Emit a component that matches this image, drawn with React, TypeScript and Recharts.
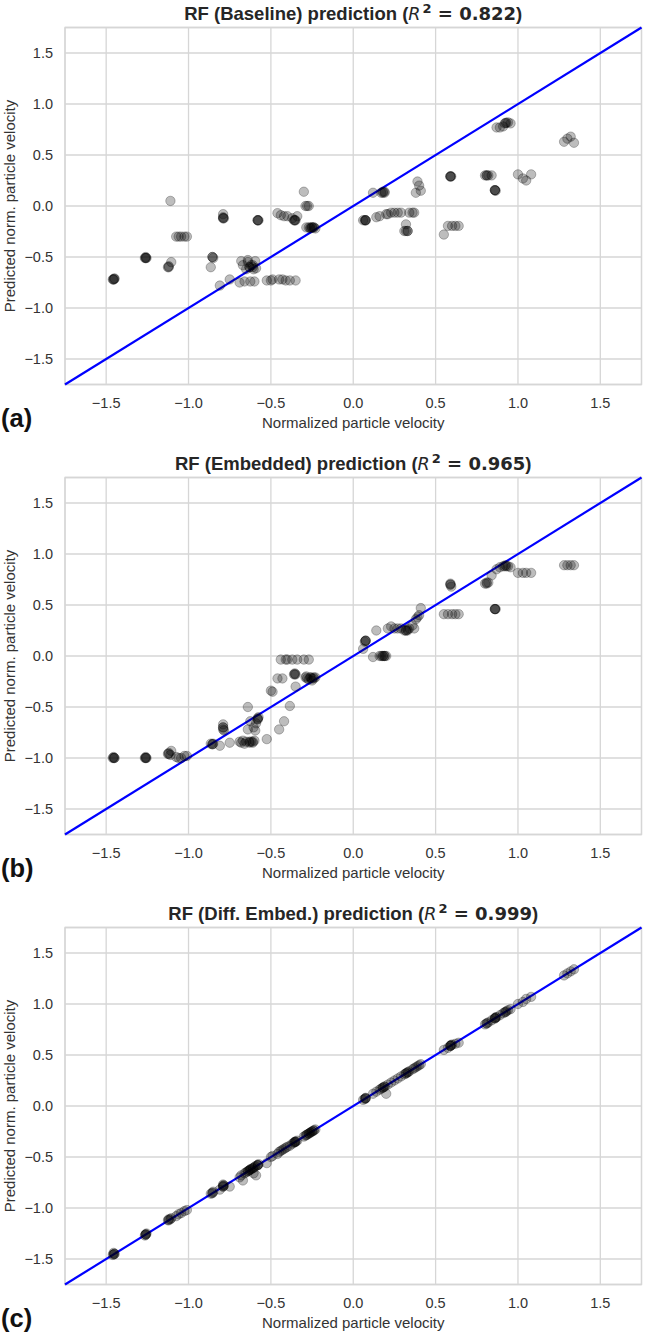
import React from "react";
import {
  ScatterChart,
  Scatter,
  XAxis,
  YAxis,
  CartesianGrid,
  ReferenceLine,
  ReferenceArea,
} from "recharts";

// True (normalized) particle velocity for each sample
const actual = [
  -1.46, -1.45, -1.455, -1.265, -1.255, -1.26, -1.125, -1.12, -1.105, -1.11,
  -1.075, -1.06, -1.045, -1.025, -1.01, -0.865, -0.855, -0.85, -0.81, -0.79,
  -0.785, -0.79, -0.75, -0.69, -0.68, -0.67, -0.66, -0.65, -0.64, -0.63,
  -0.625, -0.61, -0.605, -0.6, -0.595, -0.59, -0.64, -0.58, -0.575, -0.525,
  -0.5, -0.49, -0.46, -0.45, -0.44, -0.43, -0.42, -0.41, -0.4, -0.385,
  -0.37, -0.36, -0.355, -0.35, -0.34, -0.3, -0.29, -0.28, -0.27, -0.285,
  -0.27, -0.26, -0.25, -0.24, -0.23, 0.075, 0.07, 0.06, 0.12, 0.14,
  0.16, 0.17, 0.18, 0.19, 0.2, 0.21, 0.23, 0.25, 0.27, 0.29,
  0.31, 0.32, 0.33, 0.34, 0.36, 0.37, 0.38, 0.39, 0.4, 0.41,
  0.55, 0.575, 0.59, 0.595, 0.6, 0.62, 0.64, 0.8, 0.81, 0.84,
  0.86, 0.865, 0.87, 0.89, 0.91, 0.925, 0.94, 0.955, 1.0, 1.03,
  1.05, 1.08, 1.28, 1.3, 1.32, 1.34,
  -1.455, -1.45, -1.26, -1.26, -1.12, -0.855, -0.79, -0.79, -0.62, -0.63,
  -0.61, -0.58, -0.58, -0.355, -0.35, -0.26, -0.25, -0.24, 0.075, 0.075,
  0.18, 0.19, 0.59, 0.59, 0.81, 0.82, 0.86, 0.86, 0.93, 0.92,
  0.32, 0.33,
];

// RF (Baseline) predictions
const predBaseline = [
  -0.72, -0.71, -0.72, -0.51, -0.51, -0.5, -0.6, -0.59, -0.55, 0.05,
  -0.3, -0.3, -0.3, -0.3, -0.3, -0.6, -0.5, -0.51, -0.78, -0.11,
  -0.12, -0.08, -0.72, -0.75, -0.54, -0.58, -0.74, -0.62, -0.55, -0.6,
  -0.74, -0.58, -0.62, -0.74, -0.54, -0.61, -0.53, -0.14, -0.14, -0.73,
  -0.73, -0.72, -0.07, -0.72, -0.09, -0.72, -0.1, -0.73, -0.1, -0.73,
  -0.12, -0.14, -0.14, -0.73, -0.1, 0.14, 0.0, 0.0, 0.0, -0.21,
  -0.21, -0.22, -0.21, -0.21, -0.22, -0.14, -0.14, -0.14, 0.13, -0.11,
  -0.1, 0.13, 0.14, 0.14, -0.08, -0.08, -0.065, -0.065, -0.065, -0.065,
  -0.245, -0.18, -0.245, -0.065, -0.065, -0.065, 0.13, 0.24, 0.2, 0.15,
  -0.28, -0.195, 0.29, 0.29, -0.195, -0.195, -0.195, 0.3, 0.3, 0.3,
  0.155, 0.15, 0.77, 0.77, 0.78, 0.815, 0.82, 0.81, 0.31, 0.27,
  0.25, 0.31, 0.63, 0.66, 0.68, 0.62,
  -0.72, -0.715, -0.51, -0.51, -0.6, -0.5, -0.12, -0.12, -0.58, -0.6,
  -0.6, -0.14, -0.14, -0.14, -0.14, -0.21, -0.21, -0.21, -0.14, -0.14,
  0.13, 0.13, 0.29, 0.29, 0.3, 0.3, 0.155, 0.155, 0.815, 0.81,
  -0.245, -0.245,
];

// RF (Embedded) predictions
const predEmbedded = [
  -1.0, -1.0, -0.99, -1.0, -1.0, -0.99, -0.96, -0.95, -0.93, -0.97,
  -0.99, -1.0, -1.0, -0.98, -0.98, -0.86, -0.865, -0.86, -0.88, -0.7,
  -0.73, -0.67, -0.85, -0.84, -0.85, -0.83, -0.86, -0.84, -0.72, -0.84,
  -0.64, -0.85, -0.7, -0.83, -0.73, -0.66, -0.5, -0.62, -0.6, -0.815,
  -0.34, -0.35, -0.22, -0.72, -0.035, -0.22, -0.64, -0.035, -0.035, -0.49,
  -0.035, -0.18, -0.17, -0.3, -0.035, -0.035, -0.21, -0.22, -0.035, -0.2,
  -0.23, -0.21, -0.24, -0.22, -0.21, 0.15, 0.14, 0.07, -0.01, 0.25,
  0.0, 0.0, 0.0, 0.0, 0.0, 0.27, 0.29, 0.27, 0.27, 0.27,
  0.25, 0.25, 0.26, 0.27, 0.3, 0.27, 0.36, 0.38, 0.4, 0.47,
  0.41, 0.41, 0.71, 0.68, 0.41, 0.41, 0.41, 0.71, 0.72, 0.79,
  0.46, 0.46, 0.85, 0.87, 0.88, 0.89, 0.88, 0.87, 0.815, 0.815,
  0.815, 0.815, 0.89, 0.89, 0.89, 0.89,
  -1.0, -1.0, -1.0, -1.0, -0.96, -0.865, -0.72, -0.7, -0.84, -0.85,
  -0.84, -0.62, -0.61, -0.18, -0.18, -0.21, -0.22, -0.21, 0.15, 0.15,
  0.0, 0.0, 0.7, 0.7, 0.71, 0.72, 0.46, 0.46, 0.88, 0.88,
  0.25, 0.25,
];

// RF (Diff. Embed.) predictions
const predDiffEmbed = [
  -1.46, -1.45, -1.44, -1.27, -1.25, -1.26, -1.12, -1.11, -1.1, -1.11,
  -1.08, -1.06, -1.05, -1.03, -1.02, -0.86, -0.85, -0.84, -0.82, -0.78,
  -0.78, -0.77, -0.79, -0.7, -0.68, -0.73, -0.66, -0.65, -0.64, -0.63,
  -0.62, -0.61, -0.66, -0.6, -0.59, -0.68, -0.64, -0.58, -0.57, -0.56,
  -0.5, -0.49, -0.47, -0.45, -0.44, -0.43, -0.42, -0.41, -0.4, -0.39,
  -0.37, -0.36, -0.35, -0.35, -0.34, -0.3, -0.29, -0.28, -0.27, -0.285,
  -0.27, -0.26, -0.25, -0.24, -0.23, 0.08, 0.07, 0.06, 0.12, 0.14,
  0.16, 0.17, 0.18, 0.19, 0.12, 0.21, 0.23, 0.25, 0.27, 0.29,
  0.31, 0.32, 0.33, 0.34, 0.36, 0.37, 0.38, 0.39, 0.4, 0.41,
  0.55, 0.57, 0.59, 0.6, 0.6, 0.61, 0.62, 0.8, 0.81, 0.84,
  0.86, 0.87, 0.87, 0.89, 0.91, 0.92, 0.94, 0.95, 1.0, 1.02,
  1.05, 1.07, 1.28, 1.3, 1.32, 1.34,
  -1.455, -1.45, -1.26, -1.26, -1.12, -0.855, -0.79, -0.79, -0.62, -0.63,
  -0.61, -0.58, -0.58, -0.355, -0.35, -0.26, -0.25, -0.24, 0.075, 0.075,
  0.18, 0.19, 0.59, 0.59, 0.81, 0.82, 0.86, 0.86, 0.93, 0.92,
  0.32, 0.33,
];

const axisTicks = [-1.5, -1.0, -0.5, 0.0, 0.5, 1.0, 1.5];
const axisDomain = [-1.75, 1.75];

const panelTitles = ["RF (Baseline)", "RF (Embedded)", "RF (Diff. Embed.)"];
const panelR2 = ["0.822", "0.965", "0.999"];
const panelLetters = ["(a)", "(b)", "(c)"];
const panelPreds = [predBaseline, predEmbedded, predDiffEmbed];

const fmt = (v: number) => (v < 0 ? "\u2212" : "") + Math.abs(v).toFixed(1);

const TEXT = "#333333";
const GRID = "#d6d6d6";
const SANS = "'Liberation Sans', Arial, Helvetica, sans-serif";
const MATH = "'DejaVu Sans', sans-serif";

const Dot = (props: any) => {
  const { cx, cy } = props;
  if (cx == null || cy == null) return null;
  return (
    <circle
      cx={cx}
      cy={cy}
      r={4.7}
      fill="#000"
      fillOpacity={0.26}
      stroke="#000"
      strokeOpacity={0.26}
      strokeWidth={1}
    />
  );
};

const PLOT_LEFT = 65;
const PLOT_RIGHT = 641.5;
const PLOT_TOP = 27.5;
const PLOT_BOTTOM = 384.5;

function Panel({ idx }: { idx: number }) {
  const top = idx * 450;
  const pred = panelPreds[idx];
  const data = actual.map((x, i) => ({ x, y: pred[i] }));
  const cx = (PLOT_LEFT + PLOT_RIGHT) / 2;
  const cy = (PLOT_TOP + PLOT_BOTTOM) / 2;
  return (
    <div style={{ position: "absolute", left: 0, top, width: 645, height: 450 }}>
      <ScatterChart
        width={645}
        height={435}
        margin={{ top: PLOT_TOP, right: 645 - PLOT_RIGHT, bottom: 0, left: 0 }}
      >
        <CartesianGrid stroke={GRID} strokeWidth={1.3} />
        <XAxis
          type="number"
          dataKey="x"
          domain={axisDomain}
          ticks={axisTicks}
          allowDataOverflow
          tickFormatter={fmt}
          axisLine={false}
          tickLine={false}
          tickSize={6}
          tickMargin={7}
          height={435 - PLOT_BOTTOM}
          tick={{ fill: TEXT, fontSize: 14.5, fontFamily: SANS }}
          interval={0}
        />
        <YAxis
          type="number"
          dataKey="y"
          domain={axisDomain}
          ticks={axisTicks}
          allowDataOverflow
          tickFormatter={fmt}
          axisLine={false}
          tickLine={false}
          tickSize={6}
          tickMargin={6}
          width={PLOT_LEFT}
          tick={{ fill: TEXT, fontSize: 14.5, fontFamily: SANS }}
          interval={0}
        />
        <ReferenceArea
          x1={-1.75}
          x2={1.75}
          y1={-1.75}
          y2={1.75}
          fill="none"
          fillOpacity={0}
          stroke={GRID}
          strokeWidth={1.3}
          ifOverflow="visible"
        />
        <Scatter data={data} shape={Dot} isAnimationActive={false} />
        <ReferenceLine
          segment={[
            { x: -1.75, y: -1.75 },
            { x: 1.75, y: 1.75 },
          ]}
          stroke="#0000ff"
          strokeWidth={2.2}
          ifOverflow="visible"
        />
      </ScatterChart>

      {/* Title */}
      <div
        style={{
          position: "absolute",
          left: cx - 300,
          width: 600,
          top: 13.5 - 12,
          height: 24,
          lineHeight: "24px",
          textAlign: "center",
          fontFamily: SANS,
          fontWeight: "bold",
          fontSize: 18.5,
          color: "#262626",
          whiteSpace: "nowrap",
        }}
      >
        {panelTitles[idx]} prediction (
        <span style={{ fontFamily: MATH, fontStyle: "italic", fontWeight: "normal", fontSize: 17.5 }}>R</span>
        <span
          style={{
            fontFamily: MATH,
            fontWeight: "bold",
            fontSize: 13,
            position: "relative",
            top: -7,
            marginLeft: 2,
          }}
        >
          2
        </span>
        <span style={{ fontFamily: MATH, fontWeight: "bold", fontSize: 18 }}> = {panelR2[idx]}</span>)
      </div>

      {/* X axis label */}
      <div
        style={{
          position: "absolute",
          left: cx - 200,
          width: 400,
          top: 423 - 10,
          height: 20,
          lineHeight: "20px",
          textAlign: "center",
          fontFamily: SANS,
          fontSize: 15,
          color: TEXT,
          whiteSpace: "nowrap",
        }}
      >
        Normalized particle velocity
      </div>

      {/* Y axis label */}
      <div
        style={{
          position: "absolute",
          left: 9.5 - 150,
          top: cy - 10,
          width: 300,
          height: 20,
          lineHeight: "20px",
          textAlign: "center",
          fontFamily: SANS,
          fontSize: 15,
          color: TEXT,
          whiteSpace: "nowrap",
          transform: "rotate(-90deg)",
        }}
      >
        Predicted norm. particle velocity
      </div>

      {/* Panel letter */}
      <div
        style={{
          position: "absolute",
          left: 1,
          top: 418 - 16,
          height: 32,
          lineHeight: "32px",
          fontFamily: SANS,
          fontWeight: "bold",
          fontSize: 25.5,
          color: "#111",
          whiteSpace: "nowrap",
        }}
      >
        {panelLetters[idx]}
      </div>
    </div>
  );
}

export default function App() {
  return (
    <div
      style={{
        position: "absolute",
        left: 0,
        top: 0,
        width: 645,
        height: 1335,
        overflow: "hidden",
        background: "#ffffff",
      }}
    >
      <Panel idx={0} />
      <Panel idx={1} />
      <Panel idx={2} />
    </div>
  );
}
